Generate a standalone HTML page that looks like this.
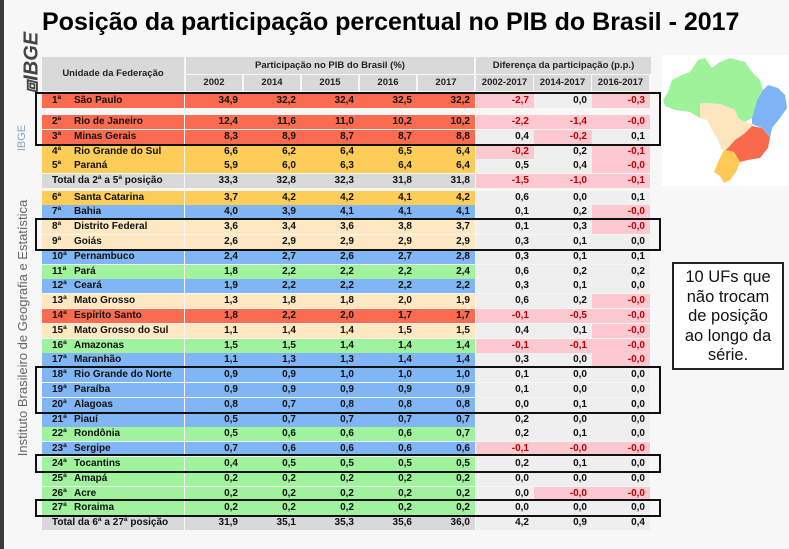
<!DOCTYPE html>
<html><head><meta charset="utf-8">
<style>
body{margin:0;width:789px;height:549px;background:#f7f7f7;position:relative;overflow:hidden;font-family:"Liberation Sans",Arial,sans-serif;}
.abs{position:absolute;box-sizing:border-box;}
.c{position:absolute;box-sizing:border-box;font-size:10px;font-weight:bold;line-height:14px;height:14px;white-space:nowrap;color:#111;}
.h{position:absolute;box-sizing:border-box;background:#d9d9d9;font-size:9.5px;font-weight:bold;color:#222;text-align:center;}
.box{position:absolute;border:2.5px solid #111;box-sizing:border-box;}
</style></head>
<body>
<div class="abs" style="left:0;top:0;width:4px;height:549px;background:#3c3c3c"></div>
<div class="abs" style="left:2px;top:52px;width:60px;font:italic bold 20px 'Liberation Sans',sans-serif;transform:rotate(-90deg);color:#444;transform-origin:center;text-align:center">⧈IBGE</div>
<div class="abs" style="left:7px;top:132px;width:30px;font-size:11px;color:#8aa0c8;transform:rotate(-90deg);text-align:center">IBGE</div>
<div class="abs" style="left:-142px;top:320px;width:330px;height:16px;font-size:13px;color:#666;transform:rotate(-90deg);text-align:center">Instituto Brasileiro de Geografia e Estatística</div>
<div class="abs" style="left:42px;top:8px;font-size:25px;font-weight:bold;color:#000;white-space:nowrap">Posição da participação percentual no PIB do Brasil - 2017</div>

<div class="h" style="left:42px;top:57px;width:142px;height:34px;line-height:34px">Unidade da Federação</div>
<div class="h" style="left:186px;top:57px;width:288px;height:17px;line-height:17px">Participação no PIB do Brasil (%)</div>
<div class="h" style="left:476px;top:57px;width:175px;height:17px;line-height:17px">Diferença da participação (p.p.)</div>
<div id="yh"></div>

<svg class="abs" style="left:662px;top:55px" width="127" height="131" viewBox="662 55 127 131">
<rect x="662" y="55" width="127" height="131" fill="#fff"/>
<polygon fill="#9ef29a" points="663,100 668,92 672,80 682,75 690,72 698,60 705,58 712,68 720,62 730,58 745,62 752,72 760,80 763,90 757,100 752,118 745,122 738,118 735,110 720,104 705,103 700,118 690,112 675,110 665,106"/>
<polygon fill="#7eb4f5" points="763,90 768,85 778,88 785,95 787,108 780,118 772,128 770,138 762,128 752,124 752,118 757,100"/>
<polygon fill="#fde6bd" points="700,103 720,104 735,110 738,118 745,122 752,124 752,132 744,136 735,140 728,148 722,150 718,140 712,130 707,120 700,118"/>
<polygon fill="#f96a4c" points="735,140 744,134 752,126 762,128 770,138 768,148 760,158 748,160 740,162 734,152 725,150 728,148"/>
<polygon fill="#fdc955" points="724,150 734,152 740,162 736,172 730,180 724,183 720,176 714,172 718,162"/>
</svg>

<div class="abs" style="left:672px;top:262px;width:112px;height:108px;border:2px solid #222;background:#fff;font-size:16.5px;line-height:19.5px;text-align:center;padding-top:4px;color:#111;white-space:nowrap">10 UFs que<br>não trocam<br>de posição<br>ao longo da<br>série.</div>

<div id="tbl"></div>

<script>
const positions=["1ª","2ª","3ª","4ª","5ª","","6ª","7ª","8ª","9ª","10ª","11ª","12ª","13ª","14ª","15ª","16ª","17ª","18ª","19ª","20ª","21ª","22ª","23ª","24ª","25ª","26ª","27ª",""];
const states=["São Paulo","Rio de Janeiro","Minas Gerais","Rio Grande do Sul","Paraná","Total da 2ª a 5ª posição","Santa Catarina","Bahia","Distrito Federal","Goiás","Pernambuco","Pará","Ceará","Mato Grosso","Espírito Santo","Mato Grosso do Sul","Amazonas","Maranhão","Rio Grande do Norte","Paraíba","Alagoas","Piauí","Rondônia","Sergipe","Tocantins","Amapá","Acre","Roraima","Total da 6ª a 27ª posição"];
const regions=["SE","SE","SE","S","S","T","S","NE","CO","CO","NE","N","NE","CO","SE","CO","N","NE","NE","NE","NE","NE","N","NE","N","N","N","N","T"];
const years=["2002","2014","2015","2016","2017"];
const diffYears=["2002-2017","2014-2017","2016-2017"];
const v2002=["34,9","12,4","8,3","6,6","5,9","33,3","3,7","4,0","3,6","2,6","2,4","1,8","1,9","1,3","1,8","1,1","1,5","1,1","0,9","0,9","0,8","0,5","0,5","0,7","0,4","0,2","0,2","0,2","31,9"];
const v2014=["32,2","11,6","8,9","6,2","6,0","32,8","4,2","3,9","3,4","2,9","2,7","2,2","2,2","1,8","2,2","1,4","1,5","1,3","0,9","0,9","0,7","0,7","0,6","0,6","0,5","0,2","0,2","0,2","35,1"];
const v2015=["32,4","11,0","8,7","6,4","6,3","32,3","4,2","4,1","3,6","2,9","2,6","2,2","2,2","1,8","2,0","1,4","1,4","1,3","1,0","0,9","0,8","0,7","0,6","0,6","0,5","0,2","0,2","0,2","35,3"];
const v2016=["32,5","10,2","8,7","6,5","6,4","31,8","4,1","4,1","3,8","2,9","2,7","2,2","2,2","2,0","1,7","1,5","1,4","1,4","1,0","0,9","0,8","0,7","0,6","0,6","0,5","0,2","0,2","0,2","35,6"];
const v2017=["32,2","10,2","8,8","6,4","6,4","31,8","4,2","4,1","3,7","2,9","2,8","2,4","2,2","1,9","1,7","1,5","1,4","1,4","1,0","0,9","0,8","0,7","0,7","0,6","0,5","0,2","0,2","0,2","36,0"];
const d0217=["-2,7","-2,2","0,4","-0,2","0,5","-1,5","0,6","0,1","0,1","0,3","0,3","0,6","0,3","0,6","-0,1","0,4","-0,1","0,3","0,1","0,1","0,0","0,2","0,2","-0,1","0,2","0,0","0,0","0,0","4,2"];
const d1417=["0,0","-1,4","-0,2","0,2","0,4","-1,0","0,0","0,2","0,3","0,1","0,1","0,2","0,1","0,2","-0,5","0,1","-0,1","0,0","0,0","0,0","0,1","0,0","0,1","-0,0","0,1","0,0","-0,0","0,0","0,9"];
const d1617=["-0,3","-0,0","0,1","-0,1","-0,0","-0,1","0,1","-0,0","-0,0","0,0","0,1","0,2","0,0","-0,0","-0,0","-0,0","-0,0","-0,0","0,0","0,0","0,0","0,0","0,0","-0,0","0,0","0,0","-0,0","0,0","0,4"];

const regionColor={SE:"#fa6b4f",S:"#fdcd58",CO:"#fde8c2",NE:"#80b6f6",N:"#9ef39c",T:"#d9d9d9"};
const colX=[186,244,302,360,418];const colW=56;
const dX=[476,534,592];const dW=57;
function rowTop(i){ if(i===0)return 94; if(i<=5)return 115+(i-1)*14.8; return 190.5+(i-6)*14.8; }

const yh=document.getElementById('yh');
years.forEach((y,k)=>{const d=document.createElement('div');d.className='h';


d.style.cssText=`left:${colX[k]}px;top:75px;width:${colW}px;height:16px;line-height:16px`;d.textContent=y;yh.appendChild(d);});
diffYears.forEach((y,k)=>{const d=document.createElement('div');d.className='h';


d.style.cssText=`left:${dX[k]}px;top:75px;width:${dW}px;height:16px;line-height:16px`;d.textContent=y;yh.appendChild(d);});

const tbl=document.getElementById('tbl');
function cell(x,y,w,bg,txt,align,color,name){const d=document.createElement('div');d.className='c';


d.style.cssText=`left:${x}px;top:${y}px;width:${w}px;background:${bg};text-align:${align};padding:0 5px;color:${color}`;d.textContent=txt;tbl.appendChild(d);return d;}
const vals=[v2002,v2014,v2015,v2016,v2017];const diffs=[d0217,d1417,d1617];
states.forEach((s,i)=>{
  const y=rowTop(i);const bg=regionColor[regions[i]];const tot=regions[i]==="T";
  if(tot){cell(42,y,142,bg,s,"left","#111","total-label").style.paddingLeft="10px";}
  else{
    cell(42,y,142,bg,"","left","#111","state-row-bg");
    cell(50,y,26,"transparent",positions[i],"left","#111","rank").style.padding="0 2px";
    cell(72,y,112,"transparent",s,"left","#111","state-name").style.padding="0 2px";
  }
  vals.forEach((arr,k)=>cell(colX[k]-1,y,colW+2,bg,arr[i],"right","#111","value-"+years[k]));
  diffs.forEach((arr,k)=>{const neg=arr[i][0]==='-';cell(dX[k],y,dW+1,neg?"#fcc9d0":"#efefef",arr[i],"right",neg?"#c00000":"#111","diff-"+diffYears[k]);});
});
function box(a,b,name){const d=document.createElement('div');d.className='box';


const t=rowTop(a)-2.5,btm=rowTop(b)+16;d.style.cssText=`left:35px;top:${t}px;width:626px;height:${btm-t}px`;tbl.appendChild(d);}
box(0,2,'highlight-top3');box(8,9,'highlight-df-go');box(18,20,'highlight-rn-al');box(24,24,'highlight-to');box(27,27,'highlight-rr');
</script>
</body></html>
